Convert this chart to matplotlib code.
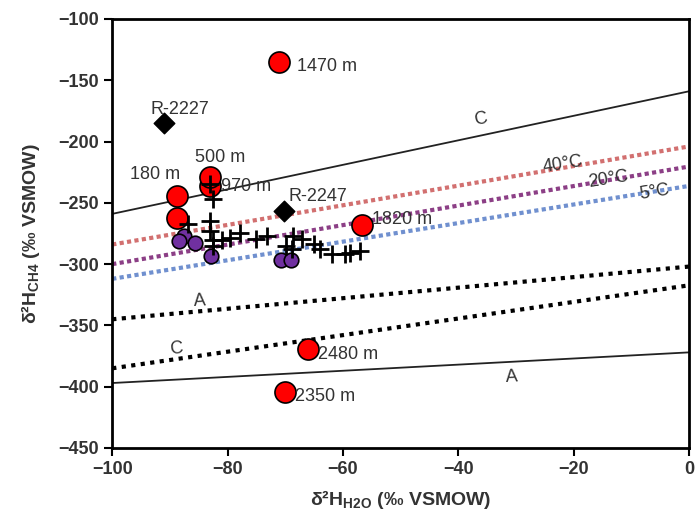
import matplotlib.pyplot as plt

plt.rcParams['font.family'] = ['Liberation Sans', 'DejaVu Sans']
plt.rcParams['mathtext.fontset'] = 'custom'
plt.rcParams['mathtext.rm'] = 'Liberation Sans'
plt.rcParams['mathtext.bf'] = 'Liberation Sans:bold'

# red circles (depth samples)
red_x = [-71, -88.8, -88.8, -83, -83, -56.7, -66, -70]
red_y = [-135, -244.5, -262, -236, -229.3, -268, -369.6, -404.5]
red_lbl = ['1470 m', '180 m', '', '970 m', '500 m', '1820 m', '2480 m', '2350 m']

# purple circles
pur_x = [-87.6, -88.5, -85.6, -82.8, -70.7, -69.0]
pur_y = [-277, -281, -283, -293.4, -296.6, -296.6]

# black crosses
crs_x = [-83, -82.6, -83, -83, -82.6, -82.6, -86.8, -81, -79.5, -77.9, -75, -73.2,
         -68.6, -67.1, -69.8, -68.9, -65.1, -63.9, -61.9, -59.6, -58.8, -57]
crs_y = [-235, -246.5, -265, -273, -280, -285, -267, -280, -278.4, -274.3, -279.7, -277,
         -277, -279.2, -285.2, -287.9, -283.8, -287.9, -292, -292, -290.6, -289.3]

# black diamonds
dia_x = [-91.1, -70.2]
dia_y = [-185.2, -256.6]

# reference lines: value at x=-100 and x=0
line_x = [-100, 0]
c_solid = [-259, -159]
a_solid = [-397, -372]
t40 = [-284, -204]
t20 = [-300, -220.4]
t5 = [-312, -236.2]
a_dot = [-345, -302]
c_dot = [-385, -317.3]

fig = plt.figure(figsize=(6.97, 5.2), dpi=100)
ax = fig.add_axes([0.161, 0.1385, 0.8275, 0.825])

ax.plot(line_x, c_solid, color='#222222', lw=1.3)
ax.plot(line_x, a_solid, color='#222222', lw=1.3)
ax.plot(line_x, t40, color='#d27070', lw=3, linestyle=(0, (1, 0.8)))
ax.plot(line_x, t20, color='#8c3f86', lw=3, linestyle=(0, (1, 0.8)))
ax.plot(line_x, t5, color='#7090cf', lw=3, linestyle=(0, (1, 0.8)))
ax.plot(line_x, a_dot, color='black', lw=3, linestyle=(0, (1, 1.3)))
ax.plot(line_x, c_dot, color='black', lw=3, linestyle=(0, (1, 1.3)))

ax.scatter(red_x, red_y, s=230, color='#ff0000', edgecolors='black', linewidths=1.2, zorder=3)
ax.scatter(pur_x, pur_y, s=110, color='#7030a0', edgecolors='black', linewidths=1.2, zorder=4)
ax.scatter(crs_x, crs_y, s=150, marker='+', color='black', linewidths=2, zorder=5)
ax.scatter(dia_x, dia_y, s=110, marker='D', color='black', zorder=5)

lab_font = dict(fontsize=13, color='#333333')
# label positions (left edge, centre y)
red_pos = {'1470 m': (-68, -139), '180 m': (-97, -226.6), '970 m': (-81.2, -237),
           '500 m': (-85.6, -212.7), '1820 m': (-55, -264), '2480 m': (-64.3, -374),
           '2350 m': (-68.3, -408)}
for t in red_lbl:
    if t:
        x, y = red_pos[t]
        ax.text(x, y, t, va='center', ha='left', **lab_font)
ax.text(-93.4, -173.5, 'R-2227', va='center', ha='left', **lab_font)
ax.text(-69.5, -245, 'R-2247', va='center', ha='left', **lab_font)

ax.text(-36.2, -182, 'C', rotation=11, ha='center', va='center', **lab_font)
ax.text(-21.8, -218.5, '40°C', rotation=9, ha='center', va='center', **lab_font)
ax.text(-14, -230.7, '20°C', rotation=9, ha='center', va='center', **lab_font)
ax.text(-5.9, -241.6, '5°C', rotation=9, ha='center', va='center', **lab_font)
ax.text(-84.9, -330, 'A', rotation=3, ha='center', va='center', **lab_font)
ax.text(-88.9, -369, 'C', rotation=5, ha='center', va='center', **lab_font)
ax.text(-30.8, -392, 'A', rotation=3, ha='center', va='center', **lab_font)

ax.set_xlim(-100, 0)
ax.set_ylim(-450, -100)
ax.set_xticks([-100, -80, -60, -40, -20, 0])
ax.set_yticks(range(-450, -99, 50))
for s in ax.spines.values():
    s.set_linewidth(2)
ax.tick_params(width=1.5, length=6, labelsize=13, labelcolor='#333333')
for lb in ax.get_xticklabels() + ax.get_yticklabels():
    lb.set_fontweight('bold')

ax.set_xlabel(r'δ²H$_{\mathbf{H2O}}$ (‰ VSMOW)', fontsize=14, fontweight='bold',
              color='#333333', labelpad=7)
ax.set_ylabel(r'δ²H$_{\mathbf{CH4}}$ (‰ VSMOW)', fontsize=14, fontweight='bold',
              color='#333333', labelpad=12)

fig.savefig('out.png', dpi=100)
